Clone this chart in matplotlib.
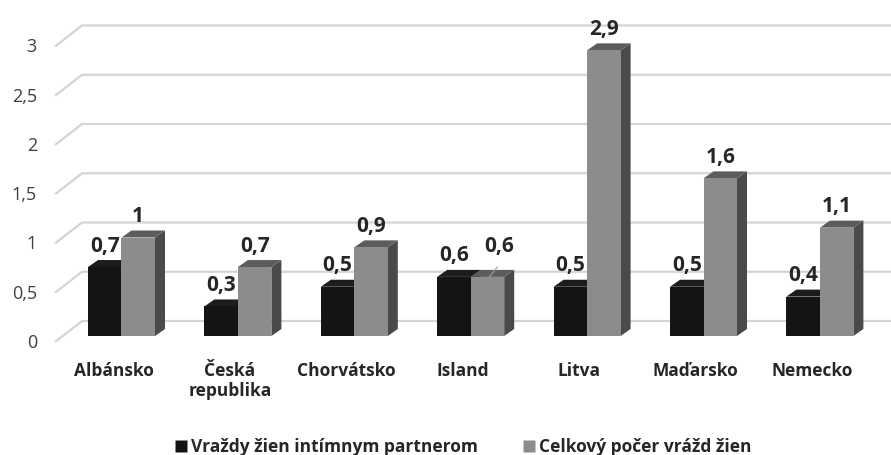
import matplotlib
matplotlib.use("Agg")
import matplotlib.pyplot as plt
from matplotlib.patches import Polygon

# data
countries = ["Albánsko", "Česká\nrepublika", "Chorvátsko", "Island", "Litva", "Maďarsko", "Nemecko"]
partner_murders = [0.7, 0.3, 0.5, 0.6, 0.5, 0.5, 0.4]
total_murders = [1, 0.7, 0.9, 0.6, 2.9, 1.6, 1.1]
y_ticks = [0, 0.5, 1, 1.5, 2, 2.5, 3]
series_names = ["Vraždy žien intímnym partnerom", "Celkový počer vrážd žien"]

W, H = 891, 456
PX_X = 116.4   # pixels per category
PX_Y = 98.5    # pixels per unit of value

fig = plt.figure(figsize=(W / 100, H / 100), dpi=100)
ax = fig.add_axes([0, 0, 1, 1])
ax.set_xlim(-121.5 / PX_X, (W - 121.5) / PX_X)
ax.set_ylim(-(H - 337) / PX_Y, 337 / PX_Y)
ax.axis("off")


def dx(p):
    return p / PX_X


def dy(p):
    return p / PX_Y


def fmt(v):
    return f"{v:g}".replace(".", ",")


font = ["Open Sans", "DejaVu Sans"]
bar_w = dx(33.5)
depth_x, depth_y = dx(10), dy(7)
front_x, front_y = dx(-8), dy(-6)
back_x, back_y = dx(19), dy(15)
wall_x = dx(55 - 121.5) - front_x

# gridlines on back wall plus the left side wall diagonals
for v in y_ticks:
    ax.plot([wall_x + front_x, wall_x + back_x, ax.get_xlim()[1]],
            [v + front_y, v + back_y, v + back_y],
            color="#d4d4d4", lw=1.6, zorder=1, solid_capstyle="butt")
    ax.text(wall_x + front_x - dx(18), v + front_y, fmt(v), ha="right", va="center",
            fontsize=13, color="#404040", family=font)


def draw_bar(x0, v, front, top, side):
    x1 = x0 + bar_w
    ax.add_patch(Polygon([(x1, 0), (x1 + depth_x, depth_y), (x1 + depth_x, v + depth_y), (x1, v)],
                         closed=True, fc=side, ec="none", zorder=2))
    ax.add_patch(Polygon([(x0, v), (x0 + depth_x, v + depth_y), (x1 + depth_x, v + depth_y), (x1, v)],
                         closed=True, fc=top, ec="none", zorder=2))
    ax.add_patch(Polygon([(x0, 0), (x1, 0), (x1, v), (x0, v)],
                         closed=True, fc=front, ec="none", zorder=2))


for i, (a, b) in enumerate(zip(partner_murders, total_murders)):
    draw_bar(i - bar_w, a, "#141414", "#1c1c1c", "#101010")
    draw_bar(i, b, "#8c8c8c", "#5c5c5c", "#4a4a4a")

    ax.text(i - bar_w / 2, a + dy(22), fmt(a), ha="center", va="center",
            fontsize=15, fontweight="bold", color="#262626", family=font)
    if a == b:
        # labels would overlap: move the second one up and add a leader line
        lx, ly = i + bar_w / 2 + dx(12), b + dy(31)
        ax.plot([i + bar_w / 2 + dx(2), i + bar_w / 2 + dx(10)], [b, b + dy(10)],
                color="#a0a0a0", lw=0.8, zorder=3)
    else:
        lx, ly = i + bar_w / 2, b + dy(22)
    ax.text(lx, ly, fmt(b), ha="center", va="center",
            fontsize=15, fontweight="bold", color="#262626", family=font)

    ax.text(i + front_x, dy(-25), countries[i], ha="center", va="top", linespacing=1.15,
            fontsize=12.5, fontweight="bold", color="#262626", family=font)

# legend
leg_y = dy(337 - 447)
for name, col, px in zip(series_names, ["#141414", "#8c8c8c"], [175, 523]):
    x = dx(px - 121.5)
    ax.plot([x + dx(6)], [leg_y], marker="s", ms=8.5, color=col, mec="none")
    ax.text(x + dx(16), leg_y, name, ha="left", va="center",
            fontsize=12.5, fontweight="bold", color="#262626", family=font)

fig.savefig("out.png", dpi=100, facecolor="white")
